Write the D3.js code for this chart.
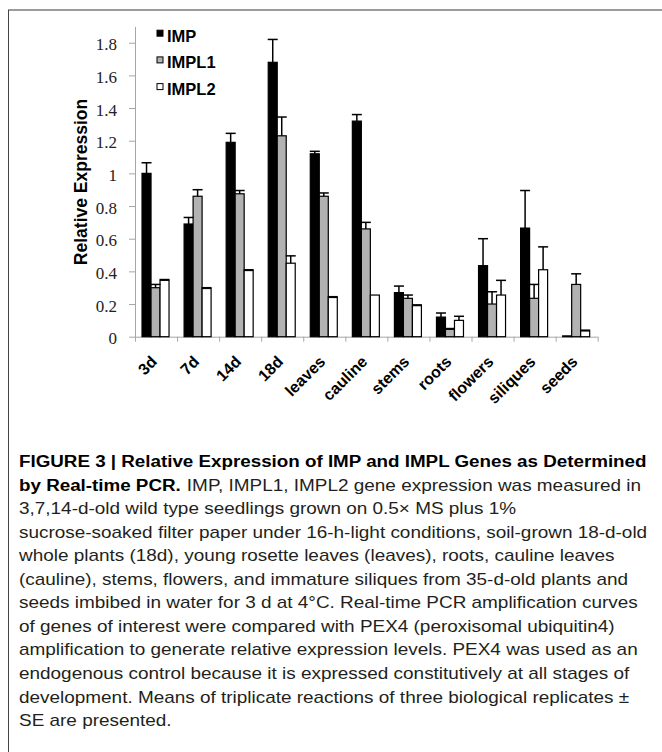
<!DOCTYPE html>
<html>
<head>
<meta charset="utf-8">
<script src="https://cdn.jsdelivr.net/npm/d3@7/dist/d3.min.js"></script>
<style>
  body { margin: 0; background: #fff; }
  svg { display: block; }
</style>
</head>
<body>
<div id="chart"></div>
<script>
var categories = ["3d", "7d", "14d", "18d", "leaves", "cauline", "stems", "roots", "flowers", "siliques", "seeds"];
var seriesNames = ["IMP", "IMPL1", "IMPL2"];
var impValues   = [1.00, 0.69, 1.19, 1.68, 1.12, 1.32, 0.27, 0.12, 0.435, 0.665, 0.005];
var impErr      = [0.065, 0.04, 0.055, 0.14, 0.015, 0.04, 0.04, 0.025, 0.165, 0.23, 0];
var impl1Values = [0.30, 0.86, 0.875, 1.23, 0.86, 0.66, 0.235, 0.045, 0.20, 0.235, 0.32];
var impl1Err    = [0.02, 0.04, 0.02, 0.115, 0.02, 0.04, 0.02, 0.005, 0.075, 0.085, 0.065];
var impl2Values = [0.345, 0.295, 0.405, 0.45, 0.24, 0.255, 0.19, 0.10, 0.255, 0.41, 0.035];
var impl2Err    = [0.005, 0.005, 0.005, 0.045, 0.005, 0, 0.005, 0.025, 0.09, 0.14, 0.005];
var yTicks = [0, 0.2, 0.4, 0.6, 0.8, 1, 1.2, 1.4, 1.6, 1.8];
var yTitle = "Relative Expression";

var captionBold = "FIGURE 3 | Relative Expression of IMP and IMPL Genes as Determined";
var captionLead = "by Real-time PCR.";
var captionLines = [
  "IMP, IMPL1, IMPL2 gene expression was measured in",
  "3,7,14-d-old wild type seedlings grown on 0.5\u00d7 MS plus 1%",
  "sucrose-soaked filter paper under 16-h-light conditions, soil-grown 18-d-old",
  "whole plants (18d), young rosette leaves (leaves), roots, cauline leaves",
  "(cauline), stems, flowers, and immature siliques from 35-d-old plants and",
  "seeds imbibed in water for 3 d at 4\u00b0C. Real-time PCR amplification curves",
  "of genes of interest were compared with PEX4 (peroxisomal ubiquitin4)",
  "amplification to generate relative expression levels. PEX4 was used as an",
  "endogenous control because it is expressed constitutively at all stages of",
  "development. Means of triplicate reactions of three biological replicates \u00b1",
  "SE are presented."
];

var colors = { IMP: "#000", IMPL1: "#b2b2b2", IMPL2: "#fff" };
var sans = "'Liberation Sans', Arial, sans-serif";

var series = [
  { name: "IMP", values: impValues, err: impErr },
  { name: "IMPL1", values: impl1Values, err: impl1Err },
  { name: "IMPL2", values: impl2Values, err: impl2Err }
];

var bars = [];
series.forEach(function (s) {
  categories.forEach(function (c, i) {
    bars.push({ cat: c, name: s.name, value: s.values[i], err: s.err[i] });
  });
});

var svg = d3.select("#chart").append("svg")
  .attr("width", 662)
  .attr("height", 752);

// frame lines
svg.append("line").attr("x1", 8).attr("x2", 662).attr("y1", 10).attr("y2", 10)
  .attr("stroke", "#7a7a7a").attr("stroke-width", 1.6);
svg.append("line").attr("x1", 8.5).attr("x2", 8.5).attr("y1", 10).attr("y2", 752)
  .attr("stroke", "#444").attr("stroke-width", 1);

var x = d3.scaleBand().domain(categories).range([135, 597.7]).padding(0);
var xs = d3.scaleBand().domain(seriesNames).range([0, 27]).padding(0);
var y = d3.scaleLinear().domain([0, 1.9]).range([336.7, 336.7 - 1.9 * 163.33]);
var groupOffset = (x.bandwidth() - 27) / 2 - 0.5;

// y axis
var yAxis = svg.append("g")
  .attr("transform", "translate(135,0)")
  .call(d3.axisLeft(y).tickValues(yTicks).tickSize(6).tickSizeOuter(0).tickPadding(12)
    .tickFormat(function (d) { return String(d); }));
yAxis.select(".domain").attr("stroke", "#a6a6a6");
yAxis.selectAll(".tick line").attr("stroke", "#a6a6a6");
yAxis.selectAll(".tick text")
  .attr("font-family", "'Liberation Serif', 'Times New Roman', serif")
  .attr("font-size", 17)
  .attr("fill", "#222")
  .attr("dy", "0.42em");

svg.append("text")
  .attr("transform", "translate(86.5," + 182 + ") rotate(-90)")
  .attr("text-anchor", "middle")
  .attr("font-family", sans)
  .attr("font-weight", "bold")
  .attr("font-size", 17.5)
  .attr("fill", "#000")
  .text(yTitle);

// x axis
var xAxis = svg.append("g");
xAxis.append("line")
  .attr("x1", x.range()[0]).attr("x2", x.range()[1])
  .attr("y1", y(0) + 0.5).attr("y2", y(0) + 0.5)
  .attr("stroke", "#a6a6a6");
xAxis.selectAll(".xtick")
  .data(categories.map(function (c) { return x(c); }).concat([x.range()[1]]))
  .enter().append("line")
  .attr("x1", function (d) { return d + 0.5; })
  .attr("x2", function (d) { return d + 0.5; })
  .attr("y1", y(0))
  .attr("y2", y(0) + 5)
  .attr("stroke", "#a6a6a6");
xAxis.selectAll(".xlabel")
  .data(categories)
  .enter().append("text")
  .attr("transform", function (d) {
    return "translate(" + (x(d) + x.bandwidth() / 2 + 2) + "," + (y(0) + 26) + ") rotate(-45)";
  })
  .attr("text-anchor", "end")
  .attr("font-family", sans)
  .attr("font-weight", "bold")
  .attr("font-size", 16)
  .attr("fill", "#000")
  .text(function (d) { return d; });

// bars
svg.append("g").selectAll("rect")
  .data(bars)
  .enter().append("rect")
  .attr("x", function (d) { return x(d.cat) + groupOffset + xs(d.name); })
  .attr("y", function (d) { return y(d.value); })
  .attr("width", xs.bandwidth())
  .attr("height", function (d) { return y(0) - y(d.value); })
  .attr("fill", function (d) { return colors[d.name]; })
  .attr("stroke", "#000")
  .attr("stroke-width", 1.2);

// error bars (upper only)
var errs = svg.append("g").selectAll("g")
  .data(bars.filter(function (d) { return d.err > 0; }))
  .enter().append("g")
  .attr("stroke", "#000")
  .attr("stroke-width", 1.5);
errs.append("line")
  .attr("x1", function (d) { return x(d.cat) + groupOffset + xs(d.name) + xs.bandwidth() / 2; })
  .attr("x2", function (d) { return x(d.cat) + groupOffset + xs(d.name) + xs.bandwidth() / 2; })
  .attr("y1", function (d) { return y(d.value); })
  .attr("y2", function (d) { return y(d.value + d.err); });
errs.append("line")
  .attr("x1", function (d) { return x(d.cat) + groupOffset + xs(d.name) + xs.bandwidth() / 2 - 5; })
  .attr("x2", function (d) { return x(d.cat) + groupOffset + xs(d.name) + xs.bandwidth() / 2 + 5; })
  .attr("y1", function (d) { return y(d.value + d.err); })
  .attr("y2", function (d) { return y(d.value + d.err); });

// legend
var legend = svg.append("g").selectAll("g")
  .data(seriesNames)
  .enter().append("g")
  .attr("transform", function (d, i) { return "translate(157," + (41.7 + i * 26.7) + ")"; });
legend.append("rect")
  .attr("x", 0).attr("y", -11.5)
  .attr("width", 6).attr("height", 6)
  .attr("fill", function (d) { return colors[d]; })
  .attr("stroke", "#000")
  .attr("stroke-width", 1);
legend.append("text")
  .attr("x", 10)
  .attr("font-family", sans)
  .attr("font-weight", "bold")
  .attr("font-size", 16.5)
  .attr("fill", "#000")
  .text(function (d) { return d; });

// caption, squeezed horizontally to match the condensed face
var cap = svg.append("g").attr("font-family", sans).attr("font-size", 16);
var lineY = function (i) { return 467 + i * 23.55; };

var boldLine = cap.append("text").attr("font-weight", "bold").attr("fill", "#000").text(captionBold);
var kB = 628 / boldLine.node().getComputedTextLength();
boldLine.attr("transform", "translate(19," + lineY(0) + ") scale(" + kB + ",1)");

var probe = cap.append("text").text(captionLines[2]);
var kR = 629 / probe.node().getComputedTextLength();
probe.remove();

var lead = cap.append("text").attr("font-weight", "bold").attr("fill", "#000").text(captionLead);
var leadW = lead.node().getComputedTextLength() * kB;
lead.attr("transform", "translate(19," + lineY(1) + ") scale(" + kB + ",1)");

cap.selectAll(".capline")
  .data(captionLines)
  .enter().append("text")
  .attr("fill", "#231f20")
  .attr("transform", function (d, i) {
    var x0 = i === 0 ? 19 + leadW + 6 : 19;
    return "translate(" + x0 + "," + lineY(i + 1) + ") scale(" + kR + ",1)";
  })
  .text(function (d) { return d; });
</script>
</body>
</html>
